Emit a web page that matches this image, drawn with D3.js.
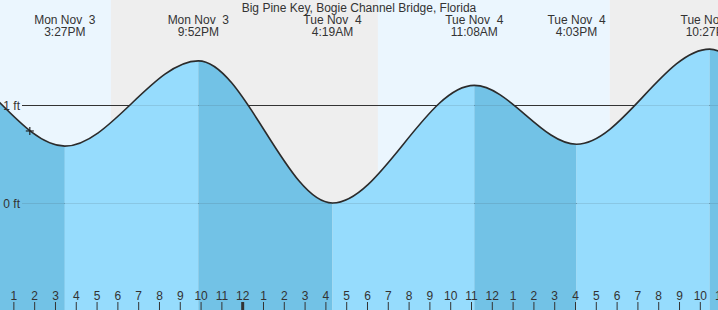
<!DOCTYPE html>
<html>
<head>
<meta charset="utf-8">
<script src="https://cdn.jsdelivr.net/npm/d3@7"></script>
<style>
  html, body { margin: 0; padding: 0; background: #fff; }
  svg { display: block; font-family: "Liberation Sans", Arial, sans-serif; }
</style>
</head>
<body>
<svg id="chart" width="718" height="310"></svg>
<script>
// ---------- data ----------
const titleText = "Big Pine Key, Bogie Channel Bridge, Florida";
const domainTimes = ["2025-11-03T12:20", "2025-11-04T22:51"];
const extremaTimes = ["2025-11-03T02:40", "2025-11-03T09:05", "2025-11-03T15:27", "2025-11-03T21:52",
                      "2025-11-04T04:19", "2025-11-04T11:08", "2025-11-04T16:03", "2025-11-04T22:27",
                      "2025-11-05T05:00", "2025-11-05T11:50"];
const extremaHeights = [0.15, 1.49, 0.58, 1.45, 0.00, 1.20, 0.60, 1.57, 0.05, 1.20];
const sunEventTimes = ["2025-11-03T17:40", "2025-11-04T06:30", "2025-11-04T17:39"];
const sunEventKinds = ["set", "rise", "set"];
const gridFeet = [0, 1];
const gridLabels = ["0 ft", "1 ft"];
const nowTime = "2025-11-03T13:46";
const nowHeight = 0.735;

// ---------- setup ----------
const W = 718, H = 310;
const parse = d3.utcParse("%Y-%m-%dT%H:%M");
const svg = d3.select("#chart");

const x = d3.scaleUtc().domain(domainTimes.map(parse)).range([0, W]);
const y = d3.scaleLinear().domain([0, 1]).range([203, 105]);

const colors = {
  day: "#ebf6fe", night: "#eeeeee",
  rising: "#96dcfd", falling: "#72c2e6",
  text: "#333333", line: "#333333"
};

const tide = extremaTimes.map((t, i) => ({ t: parse(t), h: extremaHeights[i] }));
const [d0, d1] = x.domain();

// ---------- day / night background ----------
const sunEvents = sunEventTimes.map((t, i) => ({ t: parse(t), kind: sunEventKinds[i] }));
const bands = [];
let prevT = d0, prevKind = sunEvents[0].kind === "set" ? "day" : "night";
sunEvents.forEach(e => {
  bands.push({ a: prevT, b: e.t, kind: prevKind });
  prevT = e.t;
  prevKind = e.kind === "set" ? "night" : "day";
});
bands.push({ a: prevT, b: d1, kind: prevKind });

svg.append("g").selectAll("rect").data(bands).join("rect")
  .attr("x", d => x(d.a)).attr("y", 0)
  .attr("width", d => x(d.b) - x(d.a)).attr("height", H)
  .attr("fill", d => colors[d.kind]);

// ---------- grid lines (under water) ----------
const gridG = svg.append("g");
gridG.selectAll("line").data(gridFeet).join("line")
  .attr("x1", 22).attr("x2", W)
  .attr("y1", d => y(d) + 0.5).attr("y2", d => y(d) + 0.5)
  .attr("stroke", colors.line).attr("stroke-width", 1);

// ---------- water ----------
const area = d3.area().x(d => x(d.t)).y0(H).y1(d => y(d.h)).curve(d3.curveMonotoneX);
const line = d3.line().x(d => x(d.t)).y(d => y(d.h)).curve(d3.curveMonotoneX);

svg.append("clipPath").attr("id", "waterClip")
  .append("path").attr("d", area(tide));

const segs = d3.pairs(tide).map(([a, b]) => ({ a: a.t, b: b.t, kind: b.h < a.h ? "falling" : "rising" }));
svg.append("g").attr("clip-path", "url(#waterClip)")
  .selectAll("rect").data(segs).join("rect")
  .attr("x", d => x(d.a)).attr("y", 0)
  .attr("width", d => x(d.b) - x(d.a)).attr("height", H)
  .attr("fill", d => colors[d.kind]);

// faint grid through water
svg.append("g").attr("clip-path", "url(#waterClip)")
  .selectAll("line").data(gridFeet).join("line")
  .attr("x1", 22).attr("x2", W)
  .attr("y1", d => y(d) + 0.5).attr("y2", d => y(d) + 0.5)
  .attr("stroke", colors.line).attr("stroke-opacity", 0.12).attr("stroke-width", 1);

// tide curve
svg.append("path").attr("d", line(tide))
  .attr("fill", "none").attr("stroke", "#2b2b2b").attr("stroke-width", 1.6);

// grid labels
svg.append("g").selectAll("text").data(gridFeet).join("text")
  .attr("x", 20).attr("y", d => y(d) + 4.5)
  .attr("text-anchor", "end").attr("font-size", 12).attr("fill", colors.text)
  .text((d, i) => gridLabels[i]);

// current time marker
const nt = parse(nowTime);
const marker = svg.append("g").attr("transform", `translate(${x(nt)},${y(nowHeight)})`)
  .attr("stroke", "#222").attr("stroke-width", 1.2);
marker.append("line").attr("x1", -4).attr("x2", 4).attr("y1", 0).attr("y2", 0);
marker.append("line").attr("x1", 0).attr("x2", 0).attr("y1", -4).attr("y2", 4);

// ---------- extrema labels ----------
const fmtDay = d3.utcFormat("%a %b %e");
const fmtTime = d3.utcFormat("%-I:%M%p");
const visible = tide.filter(d => d.t >= d0 && d.t <= d1);
const lab = svg.append("g").attr("font-size", 12).attr("fill", colors.text).attr("text-anchor", "middle");
lab.selectAll("text.day").data(visible).join("text").attr("class", "day")
  .attr("x", d => x(d.t)).attr("y", 23.5).style("white-space", "pre")
  .text(d => fmtDay(d.t));
lab.selectAll("text.time").data(visible).join("text").attr("class", "time")
  .attr("x", d => x(d.t)).attr("y", 36)
  .text(d => fmtTime(d.t));

// title
svg.append("text").attr("x", W / 2).attr("y", 11.5)
  .attr("text-anchor", "middle").attr("font-size", 12).attr("fill", colors.text)
  .text(titleText);

// ---------- hour axis ----------
const hours = d3.utcHour.range(d3.utcHour.ceil(d0), d3.utcHour.offset(d1, 1));
const ax = svg.append("g");
ax.selectAll("line").data(hours).join("line")
  .attr("x1", d => x(d)).attr("x2", d => x(d))
  .attr("y1", 302).attr("y2", H)
  .attr("stroke", colors.line)
  .attr("stroke-width", d => d.getUTCHours() === 0 ? 3 : 1);
ax.selectAll("text").data(hours).join("text")
  .attr("x", d => x(d)).attr("y", 300)
  .attr("text-anchor", "middle").attr("font-size", 12).attr("fill", colors.text)
  .text(d => d3.utcFormat("%-I")(d));
</script>
</body>
</html>
